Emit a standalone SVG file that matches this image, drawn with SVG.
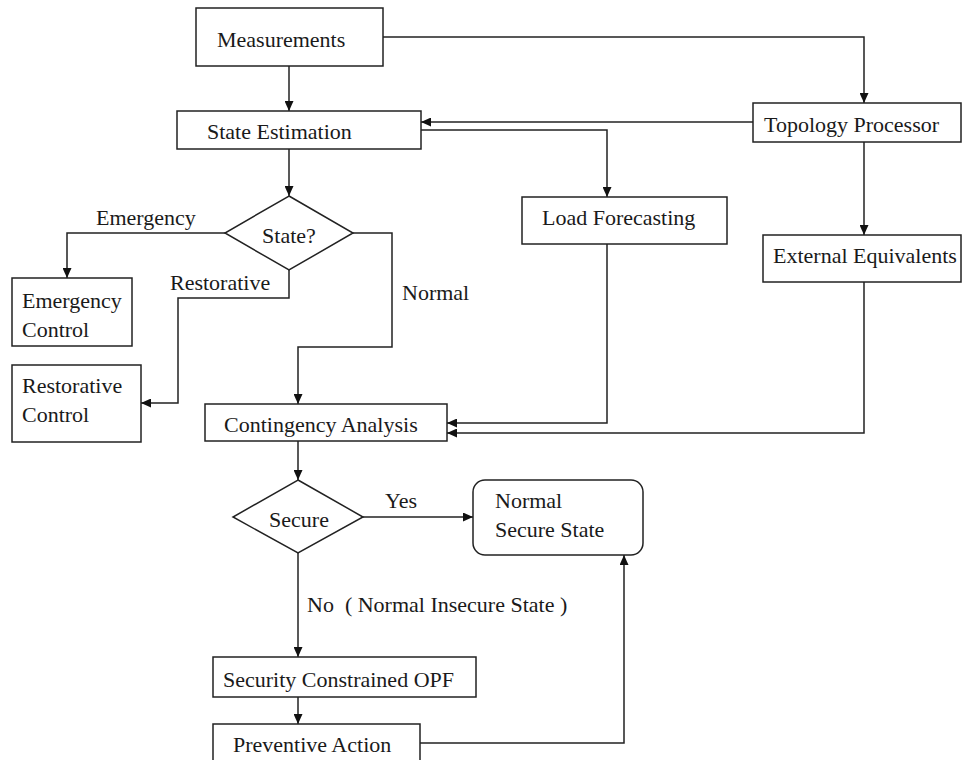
<svg xmlns="http://www.w3.org/2000/svg" width="963" height="760" viewBox="0 0 963 760">
<style>
  .box{fill:#fff;stroke:#222;stroke-width:1.5}
  .t{font-family:"Liberation Serif","Times New Roman",serif;font-size:22px;fill:#1a1a1a}
  .c{text-anchor:middle}
  .ln{fill:none;stroke:#222;stroke-width:1.5;marker-end:url(#ah)}
</style>
<defs>
  <marker id="ah" markerUnits="userSpaceOnUse" markerWidth="10" markerHeight="9" refX="10" refY="4.5" orient="auto">
    <path d="M0,0 L10,4.5 L0,9 z" fill="#111"/>
  </marker>
</defs>
<rect width="963" height="760" fill="#fff"/>
<g id="connectors">
  <path class="ln" d="M289,66 V111"/>
  <path class="ln" d="M383,37 H864 V103"/>
  <path class="ln" d="M753,122 H421"/>
  <path class="ln" d="M421,130 H607 V197"/>
  <path class="ln" d="M864,142 V235"/>
  <path class="ln" d="M289,149 V196"/>
  <path class="ln" d="M225,233 H67 V278"/>
  <path class="ln" d="M289,270 V298 H178 V403 H141"/>
  <path class="ln" d="M353,233 H392 V347 H298 V404"/>
  <path class="ln" d="M607,244 V423 H447"/>
  <path class="ln" d="M864,282 V433 H447"/>
  <path class="ln" d="M298,441 V480"/>
  <path class="ln" d="M363,517 H473"/>
  <path class="ln" d="M298,553 V657"/>
  <path class="ln" d="M298,697 V724"/>
  <path class="ln" d="M420,743 H624 V555"/>
  <text class="t" x="96" y="225">Emergency</text>
  <text class="t" x="170" y="290">Restorative</text>
  <text class="t" x="402" y="300">Normal</text>
  <text class="t" x="385" y="508">Yes</text>
  <text class="t" x="307" y="612" xml:space="preserve">No  ( Normal Insecure State )</text>
</g>
<g id="measurements"><rect class="box" x="196" y="8" width="187" height="58"/><text class="t" x="217" y="47">Measurements</text></g>
<g id="state_estimation"><rect class="box" x="177" y="111" width="244" height="38"/><text class="t" x="207" y="139">State Estimation</text></g>
<g id="topology_processor"><rect class="box" x="753" y="103" width="208" height="39"/><text class="t" x="764" y="132">Topology Processor</text></g>
<g id="load_forecasting"><rect class="box" x="522" y="197" width="205" height="47"/><text class="t" x="542" y="225">Load Forecasting</text></g>
<g id="external_equivalents"><rect class="box" x="763" y="235" width="198" height="47"/><text class="t" x="773" y="263">External Equivalents</text></g>
<g id="state_decision"><polygon class="box" points="289,196 353,233 289,270 225,233"/><text class="t c" x="289" y="243">State?</text></g>
<g id="emergency_control"><rect class="box" x="12" y="278" width="120" height="68"/><text class="t" x="22" y="308">Emergency</text><text class="t" x="22" y="337">Control</text></g>
<g id="restorative_control"><rect class="box" x="12" y="365" width="129" height="77"/><text class="t" x="22" y="393">Restorative</text><text class="t" x="22" y="422">Control</text></g>
<g id="contingency_analysis"><rect class="box" x="205" y="404" width="242" height="37"/><text class="t" x="224" y="432">Contingency Analysis</text></g>
<g id="secure_decision"><polygon class="box" points="298,480 363,517 298,553 233,517"/><text class="t c" x="299" y="527">Secure</text></g>
<g id="normal_secure_state"><rect class="box" x="473" y="480" width="170" height="75" rx="12"/><text class="t" x="495" y="508">Normal</text><text class="t" x="495" y="537">Secure State</text></g>
<g id="scopf"><rect class="box" x="213" y="657" width="263" height="40"/><text class="t" x="223" y="687">Security Constrained OPF</text></g>
<g id="preventive_action"><rect class="box" x="213" y="724" width="207" height="40"/><text class="t" x="233" y="752">Preventive Action</text></g>
</svg>
